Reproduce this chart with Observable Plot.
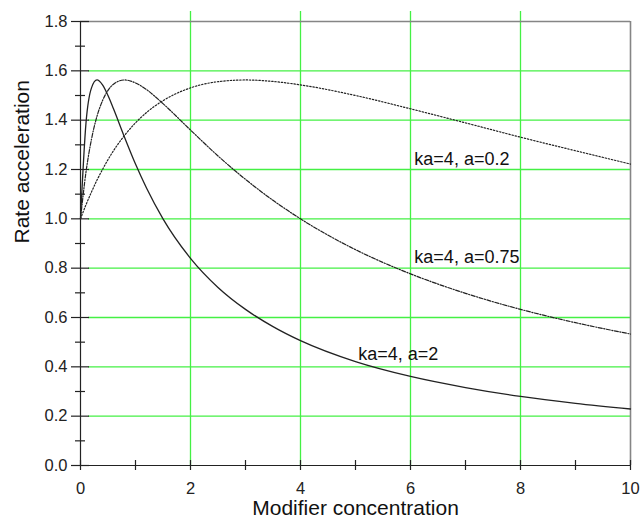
<!DOCTYPE html>
<html>
<head>
<meta charset="utf-8">
<script src="https://cdn.jsdelivr.net/npm/d3@7"></script>
<script src="https://cdn.jsdelivr.net/npm/@observablehq/plot@0.6"></script>
<style>
  body { margin: 0; background: #fff; }
</style>
</head>
<body>
<div id="chart"></div>
<script>
// Modifier concentration (x) sample points
const xValues = [0, 0.1, 0.2, 0.3, 0.4, 0.5, 0.6, 0.8, 1, 1.2, 1.5, 2, 2.5, 3, 3.5, 4, 5, 6, 7, 8, 9, 10];
// Rate acceleration
const rateA2   = [1, 1.389, 1.531, 1.563, 1.543, 1.5, 1.446, 1.331, 1.222, 1.125, 1.0, 0.84, 0.722, 0.633, 0.563, 0.506, 0.421, 0.361, 0.316, 0.28, 0.252, 0.229];
const rateA075 = [1, 1.19, 1.323, 1.416, 1.479, 1.521, 1.546, 1.563, 1.551, 1.524, 1.467, 1.36, 1.255, 1.16, 1.075, 1.0, 0.875, 0.777, 0.698, 0.633, 0.579, 0.533];
const rateA02  = [1, 1.057, 1.109, 1.157, 1.2, 1.24, 1.276, 1.338, 1.389, 1.431, 1.479, 1.531, 1.556, 1.563, 1.557, 1.543, 1.5, 1.446, 1.389, 1.331, 1.276, 1.222];
const seriesNames = ["ka=4, a=2", "ka=4, a=0.75", "ka=4, a=0.2"];
const labelX = [5.05, 6.07, 6.07];
const labelY = [0.451, 0.846, 1.241];
const xTicksMajor = [0, 2, 4, 6, 8, 10];
const xTicksAll = [0, 1, 2, 3, 4, 5, 6, 7, 8, 9, 10];
const yTicksMajor = [0, 0.2, 0.4, 0.6, 0.8, 1.0, 1.2, 1.4, 1.6, 1.8];
const yTicksMinor = [0.1, 0.3, 0.5, 0.7, 0.9, 1.1, 1.3, 1.5, 1.7];
const xGrid = [2, 4, 6, 8];
const yGrid = [0.2, 0.4, 0.6, 0.8, 1.0, 1.2, 1.4, 1.6];
const xTitle = "Modifier concentration";
const yTitle = "Rate acceleration";

const allSeries = [rateA2, rateA075, rateA02];
const rows = [];
allSeries.forEach((vals, s) => vals.forEach((v, i) => rows.push({series: seriesNames[s], x: xValues[i], y: v})));
const styles = [
  {strokeDasharray: null, strokeWidth: 1.3},
  {strokeDasharray: "4,1.5,1.2,1.5", strokeWidth: 1.2},
  {strokeDasharray: "1.4,1.8", strokeWidth: 1.2}
];

const green = "#44f044";
const frameGray = "#858585";
const ink = "#222";

const chart = Plot.plot({
  width: 643,
  height: 523,
  marginLeft: 80,
  marginRight: 13,
  marginTop: 21,
  marginBottom: 58,
  style: {fontFamily: "'Liberation Sans', Arial, sans-serif", fontSize: "16.5px", color: ink, background: "#fff"},
  x: {domain: [0, 10]},
  y: {domain: [0, 1.8]},
  marks: [
    Plot.ruleY(yGrid, {x1: 0, x2: 10, stroke: green, strokeWidth: 1.3, insetLeft: 8}),
    Plot.ruleX(xGrid, {y1: 0, y2: 1.8, stroke: green, strokeWidth: 1.3, insetBottom: 10}),
    Plot.ruleY([1.8], {x1: 0, x2: 10, stroke: frameGray, strokeWidth: 1.6}),
    Plot.ruleX([10], {y1: 0, y2: 1.8, stroke: frameGray, strokeWidth: 1.6}),
    Plot.ruleY([0], {x1: 0, x2: 10, stroke: ink, strokeWidth: 1.2}),
    Plot.ruleX([0], {y1: 0, y2: 1.8, stroke: ink, strokeWidth: 1.2}),
    Plot.ruleX(xTicksAll, {y1: 0, y2: 0, insetTop: -5, insetBottom: -5, stroke: ink, strokeWidth: 1.2}),
    Plot.ruleY(yTicksMajor, {x1: 0, x2: 0, insetLeft: -9, insetRight: -9, stroke: ink, strokeWidth: 1.2}),
    Plot.ruleY(yTicksMinor, {x1: 0, x2: 0, insetLeft: -5, insetRight: -5, stroke: ink, strokeWidth: 1.2}),
    ...seriesNames.map((name, s) => Plot.line(rows.filter(d => d.series === name), {
      x: "x", y: "y", stroke: "#222", curve: "monotone-x",
      strokeWidth: styles[s].strokeWidth, strokeDasharray: styles[s].strokeDasharray
    })),
    Plot.text(seriesNames, {x: (d, i) => labelX[i], y: (d, i) => labelY[i], text: d => d, textAnchor: "start", fontSize: 18, fill: "#111"}),
    Plot.axisX({ticks: xTicksMajor, tickSize: 0, tickPadding: 17, fontSize: 16.5, label: null, tickFormat: d3.format("d")}),
    Plot.axisY({ticks: yTicksMajor, tickSize: 0, tickPadding: 13, fontSize: 16.5, label: null, tickFormat: d3.format(".1f")}),
    Plot.text([yTitle], {frameAnchor: "left", dx: -58, rotate: -90, fontSize: 21, fill: "#111"}),
    Plot.text([xTitle], {frameAnchor: "bottom", dy: 49, fontSize: 21, fill: "#111"})
  ]
});
document.getElementById("chart").appendChild(chart);
</script>
</body>
</html>
